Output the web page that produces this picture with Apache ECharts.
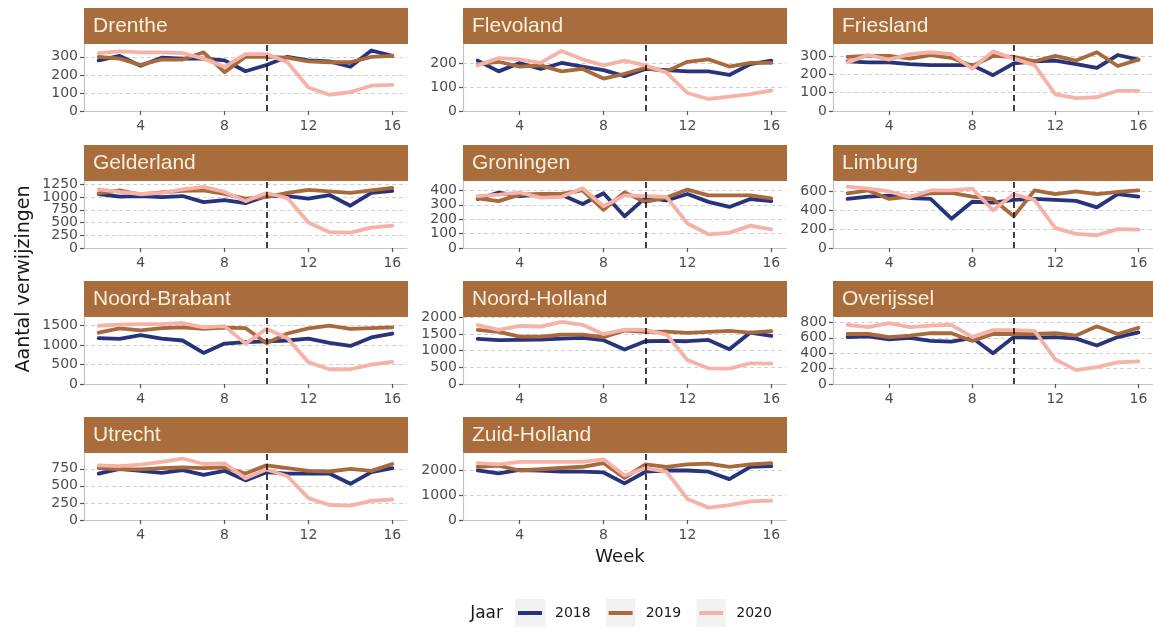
<!DOCTYPE html>
<html>
<head>
<meta charset="utf-8">
<title>Aantal verwijzingen per week</title>
<script src="https://cdn.jsdelivr.net/npm/echarts@6/dist/echarts.min.js"></script>
<style>
  html, body { margin: 0; padding: 0; background: #fff; }
  #chart { width: 1153px; height: 628px; }
</style>
</head>
<body>
<div id="chart"></div>
<script>
// weken 2 t/m 16
const weeks = [2, 3, 4, 5, 6, 7, 8, 9, 10, 11, 12, 13, 14, 15, 16]
const provinces = ['Drenthe', 'Flevoland', 'Friesland', 'Gelderland', 'Groningen', 'Limburg',
  'Noord-Brabant', 'Noord-Holland', 'Overijssel', 'Utrecht', 'Zuid-Holland']
const years = ['2018', '2019', '2020']

// per provincie, zelfde volgorde als provinces
const v2018 = [
  [280, 305, 250, 295, 290, 290, 280, 220, 255, 300, 280, 275, 245, 335, 305],
  [210, 165, 200, 175, 200, 185, 170, 145, 175, 170, 165, 165, 150, 195, 210],
  [270, 265, 265, 255, 250, 250, 250, 195, 260, 270, 275, 255, 235, 305, 280],
  [1060, 1010, 1020, 1000, 1020, 900, 940, 880, 1020, 1020, 970, 1040, 830, 1080, 1120],
  [340, 385, 360, 370, 370, 305, 380, 220, 350, 330, 375, 320, 285, 340, 325],
  [520, 545, 555, 530, 520, 310, 490, 480, 510, 520, 510, 500, 430, 570, 545],
  [1180, 1160, 1260, 1170, 1120, 800, 1040, 1080, 1100, 1120, 1170, 1060, 980, 1200, 1300],
  [1350, 1310, 1320, 1330, 1360, 1380, 1310, 1030, 1280, 1290, 1280, 1320, 1040, 1540, 1440],
  [610, 620, 580, 600, 560, 550, 600, 400, 610, 600, 610, 590, 500, 610, 670],
  [680, 750, 720, 690, 730, 660, 720, 580, 700, 680, 680, 680, 530, 700, 760],
  [2000, 1880, 2020, 2000, 1950, 1950, 1920, 1480, 1950, 2000, 2000, 1950, 1650, 2150, 2180]
]
const v2019 = [
  [300, 290, 255, 285, 285, 325, 215, 300, 300, 295, 275, 270, 270, 300, 305],
  [195, 205, 185, 190, 165, 175, 135, 155, 180, 165, 205, 215, 185, 200, 200],
  [295, 300, 300, 285, 305, 290, 245, 300, 295, 270, 300, 275, 320, 245, 280],
  [1070, 1130, 1050, 1090, 1120, 1130, 1060, 970, 1000, 1080, 1140, 1110, 1080, 1130, 1180],
  [345, 325, 370, 375, 375, 400, 265, 385, 320, 350, 405, 365, 365, 365, 345],
  [580, 610, 520, 545, 580, 585, 545, 520, 335, 610, 570, 600, 570, 595, 610],
  [1320, 1430, 1380, 1440, 1460, 1420, 1450, 1440, 1050, 1300, 1430, 1500, 1420, 1440, 1460],
  [1620, 1560, 1420, 1420, 1480, 1480, 1400, 1600, 1560, 1570, 1530, 1560, 1590, 1540, 1580],
  [650, 650, 610, 630, 660, 660, 560, 650, 650, 650, 660, 630, 750, 650, 730],
  [760, 740, 740, 760, 770, 760, 770, 680, 800, 760, 720, 710, 750, 720, 820],
  [2150, 2200, 2000, 2050, 2100, 2150, 2300, 1700, 2250, 2150, 2250, 2280, 2150, 2250, 2300]
]
const v2020 = [
  [320, 330, 325, 325, 320, 290, 245, 315, 315, 270, 130, 90, 105, 140, 145],
  [190, 220, 215, 200, 250, 215, 190, 210, 190, 160, 75, 50, 60, 70, 85],
  [265, 305, 280, 310, 320, 310, 230, 325, 285, 250, 90, 70, 75, 110, 110],
  [1150, 1100, 1060, 1080, 1150, 1200, 1100, 920, 1080, 980, 500, 310, 300, 400, 440],
  [360, 370, 385, 350, 355, 415, 290, 365, 360, 355, 170, 95, 105, 155, 130],
  [650, 630, 600, 540, 610, 610, 630, 400, 570, 510, 210, 150, 135, 200, 195],
  [1500, 1530, 1540, 1540, 1570, 1460, 1490, 1040, 1420, 1180, 560, 380, 380, 500, 570],
  [1760, 1620, 1740, 1720, 1860, 1770, 1490, 1630, 1620, 1480, 720, 470, 460, 620, 610],
  [770, 740, 790, 740, 760, 770, 610, 700, 700, 690, 320, 180, 220, 280, 295],
  [800, 790, 810, 850, 900, 820, 830, 610, 740, 640, 320, 220, 210, 280, 300],
  [2300, 2250, 2350, 2350, 2350, 2350, 2450, 1800, 2100, 1950, 850, 500, 600, 750, 780]
]

const yBreaks = [
  [0, 100, 200, 300], [0, 100, 200], [0, 100, 200, 300],
  [0, 250, 500, 750, 1000, 1250], [0, 100, 200, 300, 400], [0, 200, 400, 600],
  [0, 500, 1000, 1500], [0, 500, 1000, 1500, 2000], [0, 200, 400, 600, 800],
  [0, 250, 500, 750], [0, 1000, 2000]
]
const yLimits = [371, 279, 365, 1315, 465, 710, 1725, 2005, 871, 981, 2706]
const xBreaks = [4, 8, 12, 16]
const lockdownWeek = 10

const colors = ['#27337a', '#a86a3c', '#f5b2a6']
const stripColor = '#a96c3d'
const textFont = 'DejaVu Sans'

// paneel-layout
const colLeft = [84, 463, 833]
const rowTop = [44, 181, 317, 453]
const panelW = 323
const panelH = 67
const stripH = 36

const chart = echarts.init(document.getElementById('chart'))
const allValues = [v2018, v2019, v2020]

const grids = []
const xAxes = []
const yAxes = []
const series = []
const graphics = []

const plainNumber = v => String(v)
const yLabelStyle = {
  margin: 6, color: '#4d4d4d', fontSize: 14, fontFamily: textFont,
  hideOverlap: false, showMinLabel: true, showMaxLabel: true, formatter: plainNumber
}

provinces.forEach((name, i) => {
  const left = colLeft[i % 3]
  const top = rowTop[Math.floor(i / 3)]
  grids.push({ left, top, width: panelW, height: panelH, containLabel: false })

  xAxes.push({
    type: 'value', gridIndex: i, min: 1.3, max: 16.7,
    splitLine: { show: false },
    axisLine: { show: true, onZero: false, lineStyle: { color: '#c4c4c4', width: 1.2 } },
    axisTick: { show: true, length: 4, customValues: xBreaks, lineStyle: { color: '#555', width: 1.2 } },
    axisLabel: {
      customValues: xBreaks, margin: 8, color: '#4d4d4d', fontSize: 14, fontFamily: textFont,
      hideOverlap: false, formatter: plainNumber
    }
  })
  // twee y-assen per paneel: zo worden dicht op elkaar staande labels niet weggelaten
  const evenBreaks = yBreaks[i].filter((v, j) => j % 2 === 0)
  const oddBreaks = yBreaks[i].filter((v, j) => j % 2 === 1)
  yAxes.push({
    type: 'value', gridIndex: i, position: 'left', offset: 0, min: 0, max: yLimits[i],
    splitLine: { show: false },
    axisLine: { show: true, onZero: false, lineStyle: { color: '#c4c4c4', width: 1.2 } },
    axisTick: { show: true, length: 4, customValues: yBreaks[i], lineStyle: { color: '#555', width: 1.2 } },
    axisLabel: Object.assign({ customValues: evenBreaks }, yLabelStyle)
  })
  yAxes.push({
    type: 'value', gridIndex: i, position: 'left', offset: 0, min: 0, max: yLimits[i],
    splitLine: { show: false },
    axisLine: { show: false, onZero: false },
    axisTick: { show: false },
    axisLabel: Object.assign({ customValues: oddBreaks }, yLabelStyle)
  })

  years.forEach((year, k) => {
    const s = {
      type: 'line', name: year, xAxisIndex: i, yAxisIndex: 2 * i,
      data: weeks.map((w, j) => [w, allValues[k][i][j]]),
      showSymbol: false, symbol: 'none',
      lineStyle: { color: colors[k], width: 3.8, cap: 'round', join: 'round' },
      itemStyle: { color: colors[k] },
      z: 2 + k,
      silent: true
    }
    if (k === 0) {
      // gestippelde hulplijnen
      s.markLine = {
        silent: true, symbol: 'none', z: 1, label: { show: false },
        lineStyle: { color: '#cfcfcf', type: [4, 3], width: 1 },
        data: yBreaks[i].filter(v => v > 0).map(v => ({ yAxis: v }))
      }
    }
    if (k === 2) {
      s.markLine = {
        silent: true, symbol: 'none', z: 10, label: { show: false },
        lineStyle: { color: '#111', type: [6, 4], width: 1.6 },
        data: [{ xAxis: lockdownWeek }]
      }
    }
    series.push(s)
  })

  graphics.push({
    type: 'rect', left, top: top - stripH, silent: true,
    shape: { width: panelW + 1, height: stripH },
    style: { fill: stripColor }
  })
  graphics.push({
    type: 'text', x: left + 9, y: top - stripH / 2, silent: true,
    style: {
      text: name, fill: '#f7efdc', font: '21px "Liberation Sans", Arial, sans-serif',
      verticalAlign: 'middle', align: 'left'
    }
  })
})

graphics.push({
  type: 'text', x: 620, y: 557, silent: true,
  style: { text: 'Week', fill: '#1a1a1a', font: '18px "DejaVu Sans"', align: 'center', verticalAlign: 'middle' }
})
graphics.push({
  type: 'text', x: 24, y: 279, rotation: Math.PI / 2, silent: true,
  style: { text: 'Aantal verwijzingen', fill: '#1a1a1a', font: '19px "DejaVu Sans"', align: 'center', verticalAlign: 'middle' }
})
graphics.push({
  type: 'text', x: 503, y: 614, silent: true,
  style: { text: 'Jaar', fill: '#1a1a1a', font: '17px "DejaVu Sans"', align: 'right', verticalAlign: 'middle' }
})

const keyIcon = c => 'image://data:image/svg+xml;charset=utf-8,' + encodeURIComponent(
  '<svg xmlns="http://www.w3.org/2000/svg" width="30" height="28">' +
  '<rect width="30" height="28" fill="#f2f2f2"/>' +
  '<rect x="3" y="12" width="24" height="4" fill="' + c + '"/></svg>')

const option = {
  animation: false,
  backgroundColor: '#ffffff',
  grid: grids,
  xAxis: xAxes,
  yAxis: yAxes,
  series,
  graphic: graphics,
  legend: {
    left: 515, top: 599, orient: 'horizontal', padding: 0,
    itemWidth: 30, itemHeight: 28, itemGap: 15,
    selectedMode: false,
    textStyle: { color: '#1a1a1a', fontSize: 14, fontFamily: textFont, padding: [0, 0, 0, 5] },
    data: years.map((y, k) => ({ name: y, icon: keyIcon(colors[k]) }))
  }
}

chart.setOption(option)
</script>
</body>
</html>
